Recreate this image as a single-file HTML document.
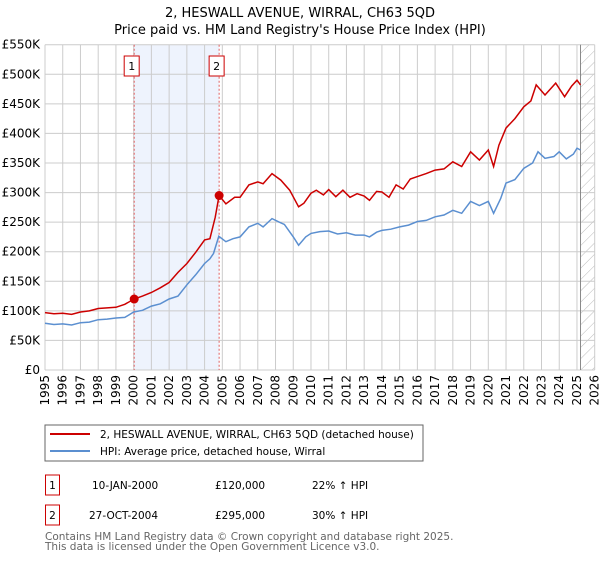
<!DOCTYPE html>
<html><head><meta charset="utf-8"><style>
body{margin:0;background:#fff;font-family:"Liberation Sans","DejaVu Sans",sans-serif;}
svg text{font-family:"DejaVu Sans","Liberation Sans",sans-serif;}
</style></head><body>
<svg width="600" height="560" xmlns="http://www.w3.org/2000/svg">
<defs><pattern id="hatch" width="8" height="8" patternUnits="userSpaceOnUse" patternTransform="rotate(45)"><line x1="0" y1="0" x2="0" y2="8" stroke="#bbb" stroke-width="1"/></pattern></defs>
<text x="300" y="17" text-anchor="middle" font-size="13">2, HESWALL AVENUE, WIRRAL, CH63 5QD</text>
<text x="300" y="34" text-anchor="middle" font-size="13">Price paid vs. HM Land Registry's House Price Index (HPI)</text>
<g id="grid"></g>
<g id="marks"></g>
<g id="axes"></g>
<rect x="45" y="425" width="378" height="36" fill="#fff" stroke="#666"/>
<line x1="50" y1="434" x2="90" y2="434" stroke="#cc0000" stroke-width="2"/>
<text x="100" y="438" font-size="10.5">2, HESWALL AVENUE, WIRRAL, CH63 5QD (detached house)</text>
<line x1="50" y1="451" x2="90" y2="451" stroke="#5b8fd0" stroke-width="2"/>
<text x="100" y="455" font-size="10.5">HPI: Average price, detached house, Wirral</text>
<g font-size="10.5">
<rect x="45.5" y="475" width="14" height="20" fill="none" stroke="#cc0000"/>
<text x="52.5" y="489" text-anchor="middle">1</text>
<text x="92" y="489">10-JAN-2000</text><text x="215" y="489">£120,000</text><text x="312" y="489">22% ↑ HPI</text>
<rect x="45.5" y="505" width="14" height="20" fill="none" stroke="#cc0000"/>
<text x="52.5" y="519" text-anchor="middle">2</text>
<text x="89" y="519">27-OCT-2004</text><text x="215" y="519">£295,000</text><text x="312" y="519">30% ↑ HPI</text>
</g>
<text x="45" y="540" font-size="10.5" fill="#666">Contains HM Land Registry data © Crown copyright and database right 2025.</text>
<text x="45" y="550" font-size="10.5" fill="#666">This data is licensed under the Open Government Licence v3.0.</text>
</svg>
<script>
const yTicks=[0,50000,100000,150000,200000,250000,300000,350000,400000,450000,500000,550000];
const yTickLabels=["£0","£50K","£100K","£150K","£200K","£250K","£300K","£350K","£400K","£450K","£500K","£550K"];
const xYears=[1995,1996,1997,1998,1999,2000,2001,2002,2003,2004,2005,2006,2007,2008,2009,2010,2011,2012,2013,2014,2015,2016,2017,2018,2019,2020,2021,2022,2023,2024,2025,2026];
const hpiT=[1995,1995.5,1996,1996.5,1997,1997.5,1998,1998.5,1999,1999.5,2000,2000.5,2001,2001.5,2002,2002.5,2003,2003.5,2004,2004.3,2004.5,2004.8,2005.2,2005.6,2006,2006.5,2007,2007.3,2007.8,2008.2,2008.5,2009,2009.3,2009.7,2010,2010.5,2011,2011.5,2012,2012.5,2013,2013.3,2013.7,2014,2014.5,2015,2015.5,2016,2016.5,2017,2017.5,2018,2018.5,2019,2019.5,2020,2020.3,2020.7,2021,2021.5,2022,2022.5,2022.8,2023.2,2023.7,2024,2024.4,2024.8,2025,2025.2];
const hpiV=[79000,77000,78000,76000,80000,81000,85000,86000,88000,89000,98000,101000,108000,112000,120000,125000,144000,161000,180000,188000,197000,226000,217000,222000,225000,242000,248000,242000,256000,250000,246000,225000,211000,225000,231000,234000,235000,230000,232000,228000,228000,225000,233000,236000,238000,242000,245000,251000,253000,259000,262000,270000,265000,285000,278000,285000,265000,290000,316000,322000,341000,350000,369000,358000,361000,369000,357000,365000,375000,372000];
const ppT=[1995,1995.5,1996,1996.5,1997,1997.5,1998,1998.5,1999,1999.5,2000.03,2000.5,2001,2001.5,2002,2002.5,2003,2003.5,2004,2004.3,2004.6,2004.82,2005.2,2005.7,2006,2006.5,2007,2007.3,2007.8,2008.3,2008.8,2009.3,2009.6,2010,2010.3,2010.7,2011,2011.4,2011.8,2012.2,2012.6,2013,2013.3,2013.7,2014,2014.4,2014.8,2015.2,2015.6,2016,2016.5,2017,2017.5,2018,2018.5,2019,2019.5,2020,2020.3,2020.6,2021,2021.5,2022,2022.4,2022.7,2023.2,2023.8,2024.3,2024.7,2025,2025.2];
const ppV=[97000,95000,96000,94000,98000,100000,104000,105000,106000,111000,120000,125000,131000,139000,148000,165000,180000,199000,220000,222000,258000,295000,281000,292000,292000,313000,318000,315000,332000,321000,304000,276000,282000,299000,304000,296000,305000,293000,304000,292000,298000,294000,287000,302000,301000,292000,313000,306000,323000,327000,332000,338000,340000,352000,344000,369000,355000,372000,344000,380000,409000,425000,445000,455000,482000,465000,485000,462000,480000,490000,482000];
const saleT=[2000.03,2004.82];
const saleV=[120000,295000];
const saleLabels=["1","2"];
const dataEnd=2025.2;
const X0=45,X1=594.7,Y0=370,Y1=44.7;
const xs=t=>X0+(t-1995)/31*(X1-X0);
const ys=v=>Y0-v/550000*(Y0-Y1);
const NS="http://www.w3.org/2000/svg";
function mk(tag,attrs,parent){const e=document.createElementNS(NS,tag);for(const k in attrs)e.setAttribute(k,attrs[k]);parent.appendChild(e);return e;}
const grid=document.getElementById('grid'),marks=document.getElementById('marks'),axes=document.getElementById('axes');
let r=mk('rect',{x:xs(saleT[0]),y:Y1,width:xs(saleT[1])-xs(saleT[0]),height:Y0-Y1,fill:'#eef3fd'},grid);


let h=mk('rect',{x:xs(dataEnd),y:Y1,width:X1-xs(dataEnd),height:Y0-Y1,fill:'url(#hatch)'},grid);


yTicks.forEach((v,i)=>{
 const l=mk('line',{x1:X0,x2:X1,y1:ys(v),y2:ys(v),stroke:'#ccc'},grid);
 
 
 const t=mk('text',{x:40,y:ys(v)+4,'text-anchor':'end','font-size':'12'},axes);
 t.textContent=yTickLabels[i];
 
 
});
xYears.forEach(yr=>{
 const l=mk('line',{x1:xs(yr),x2:xs(yr),y1:Y1,y2:Y0,stroke:'#ccc'},grid);
 
 
 const t=mk('text',{x:0,y:0,'text-anchor':'end','font-size':'12',transform:`translate(${xs(yr)+4},375) rotate(-90)`},axes);
 t.textContent=yr;
 
 
});
let el=mk('line',{x1:xs(dataEnd),x2:xs(dataEnd),y1:Y1,y2:Y0,stroke:'#888','stroke-width':1},grid);


saleT.forEach((t,i)=>{
 const l=mk('line',{x1:xs(t),x2:xs(t),y1:Y1,y2:Y0,stroke:'#e06060','stroke-dasharray':'2,2'},marks);
 
 
 const b=mk('rect',{x:xs(t)-10,y:56,width:15,height:20,fill:'#fff',stroke:'#cc0000'},marks);
 
 
 const tx=mk('text',{x:xs(t)-2.5,y:70,'text-anchor':'middle','font-size':'11'},marks);
 tx.textContent=saleLabels[i];
});
function path(T,V,color,name){
 const d=T.map((t,i)=>(i?'L':'M')+xs(t).toFixed(1)+','+ys(V[i]).toFixed(1)).join('');
 const p=mk('path',{d:d,fill:'none',stroke:color,'stroke-width':1.5},marks);
 
 
}
path(hpiT,hpiV,'#5b8fd0','hpi-line');
path(ppT,ppV,'#cc0000','property-price-line');
saleT.forEach((t,i)=>{
 const c=mk('circle',{cx:xs(t),cy:ys(saleV[i]),r:4.5,fill:'#cc0000'},marks);
 
 
});
</script>
</body></html>
